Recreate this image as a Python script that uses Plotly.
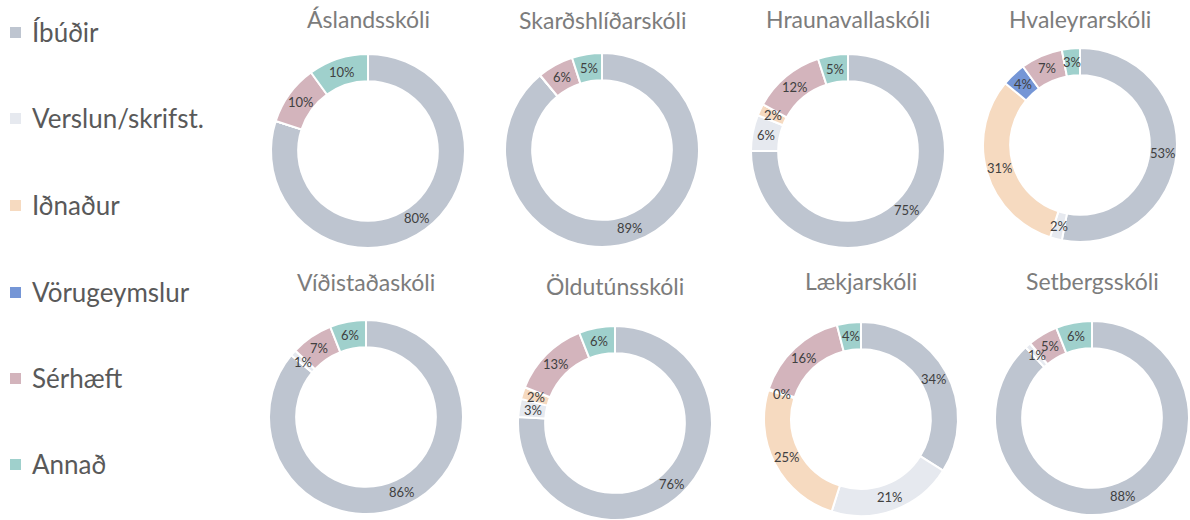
import math
import plotly.graph_objects as go

categories = ["Íbúðir", "Verslun/skrifst.", "Iðnaður", "Vörugeymslur", "Sérhæft", "Annað"]
colors = ["#BEC5D0", "#E6E9EF", "#F6DAC0", "#7596D6", "#D3B4BC", "#9FD0CC"]

schools = ["Áslandsskóli", "Skarðshlíðarskóli", "Hraunavallaskóli", "Hvaleyrarskóli",
           "Víðistaðaskóli", "Öldutúnsskóli", "Lækjarskóli", "Setbergsskóli"]

aslandsskoli = [80, 0, 0, 0, 10, 10]
skardshlidarskoli = [89, 0, 0, 0, 6, 5]
hraunavallaskoli = [75, 6, 2, 0, 12, 5]
hvaleyrarskoli = [53, 2, 31, 4, 7, 3]
vidistadaskoli = [86, 1, 0, 0, 7, 6]
oldutunsskoli = [76, 3, 2, 0, 13, 6]
laekjarskoli = [34, 21, 25, 0.2, 16, 4]
setbergsskoli = [88, 1, 0, 0, 5, 6]

series = [aslandsskoli, skardshlidarskoli, hraunavallaskoli, hvaleyrarskoli,
          vidistadaskoli, oldutunsskoli, laekjarskoli, setbergsskoli]

W, H = 1190, 520
# layout (pixel centers, titles)
centers = [(368, 151), (602, 150), (848, 151), (1080, 145),
           (366, 417), (615, 423), (861, 419), (1092, 418)]
title_y = [19, 20, 19, 19, 282, 286, 281, 281]
R = 97
HOLE = 0.72
label_color = "#404040"
FONT = "Lato, 'Open Sans', sans-serif"

fig = go.Figure()
annotations = []
shapes = []

for name, vals, (cx, cy), ty in zip(schools, series, centers, title_y):
    x0, x1 = (cx - R) / W, (cx + R) / W
    y0, y1 = 1 - (cy + R) / H, 1 - (cy - R) / H
    fig.add_trace(go.Pie(
        labels=categories, values=vals, name=name,
        sort=False, direction="clockwise", rotation=0,
        hole=HOLE,
        marker=dict(colors=colors, line=dict(color="white", width=2)),
        textinfo="none", hoverinfo="label+percent",
        domain=dict(x=[max(0, x0), min(1, x1)], y=[max(0, y0), min(1, y1)]),
        showlegend=False,
    ))
    annotations.append(dict(
        x=cx / W, y=1 - ty / H, xref="paper", yref="paper",
        text=name, showarrow=False, xanchor="center", yanchor="middle",
        font=dict(family=FONT, size=23, color="#7c7c7c"),
    ))
    total = sum(vals)
    rmid = R * (1 + HOLE) / 2
    cum = 0
    for v in vals:
        if v > 0:
            m = (cum + v / 2) / total
            th = math.radians(90 - 360 * m)
            px = cx + rmid * math.cos(th)
            py = cy - rmid * math.sin(th)
            annotations.append(dict(
                x=px / W, y=1 - py / H, xref="paper", yref="paper",
                text=f"{round(v / total * 100)}%", showarrow=False,
                xanchor="center", yanchor="middle",
                font=dict(family=FONT, size=13, color=label_color),
            ))
        cum += v

# custom legend
leg_y = [32, 118, 205, 292, 378, 464]
for cat, col, ly in zip(categories, colors, leg_y):
    shapes.append(dict(
        type="rect", xref="paper", yref="paper",
        x0=10 / W, x1=21 / W, y0=1 - (ly + 6) / H, y1=1 - (ly - 5) / H,
        fillcolor=col, line=dict(width=0),
    ))
    annotations.append(dict(
        x=30 / W, y=1 - ly / H, xref="paper", yref="paper",
        text=cat, showarrow=False, xanchor="left", yanchor="middle",
        font=dict(family=FONT, size=26, color="#595959"),
    ))

fig.update_layout(
    width=W, height=H,
    margin=dict(l=0, r=0, t=0, b=0),
    paper_bgcolor="white", plot_bgcolor="white",
    annotations=annotations, shapes=shapes,
    showlegend=False,
)

fig.write_html("out.html", post_script="document.body.style.margin='0';",
               config={"displayModeBar": False})
